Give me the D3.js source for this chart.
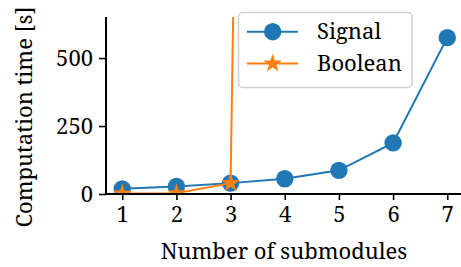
<!DOCTYPE html><html><head><script src="https://cdn.jsdelivr.net/npm/d3@7"></script>
<style>body{margin:0;background:#fff}svg text{font-family:"Noto Serif","Liberation Serif",serif;fill:#000}</style></head><body><svg width="461" height="267"></svg><script>
const submodules=[1,2,3,4,5,6,7];
const signalTime=[19,28,40,56,87,188,575];
const booleanSub=[1,2,3,4];
const booleanTime=[2,3,40,13000];
const yTicks=[0,250,500];
const xLabel="Number of submodules";
const yLabel="Computation time [s]";
const seriesNames=["Signal","Boolean"];
const colors=["#1f77b4","#ff7f0e"];
const FONT="Noto Serif";

const svg=d3.select("svg");
const L=106,T=17,B=194,R=461;
const x=d3.scaleLinear().domain([0.7,7.3]).range([L,L+6.6*54.17]);
const y=d3.scaleLinear().domain([0,651]).range([B,T]);

svg.append("defs").append("clipPath").attr("id","clip").append("rect").attr("x",L).attr("y",T).attr("width",R-L).attr("height",B-T);
const plot=svg.append("g").attr("clip-path","url(#clip)");

const line=d3.line().x(d=>x(d[0])).y(d=>y(d[1]));
const sig=submodules.map((s,i)=>[s,signalTime[i]]);
const boo=booleanSub.map((s,i)=>[s,booleanTime[i]]);
plot.append("path").datum(sig).attr("d",line).attr("fill","none").attr("stroke",colors[0]).attr("stroke-width",2);
plot.selectAll(".sc").data(sig).enter().append("circle").attr("cx",d=>x(d[0])).attr("cy",d=>y(d[1])).attr("r",8.7).attr("fill",colors[0]);
plot.append("path").datum(boo).attr("d",line).attr("fill","none").attr("stroke",colors[1]).attr("stroke-width",2);
const star=d3.symbol().type(d3.symbolStar).size(110);
plot.selectAll(".bs").data(boo).enter().append("path").attr("d",star).attr("transform",d=>`translate(${x(d[0])},${y(d[1])})`).attr("fill",colors[1]);

// axes
const xa=svg.append("g").attr("transform",`translate(0,${B})`).call(d3.axisBottom(x).tickValues(submodules).tickFormat(d3.format("d")).tickSize(6).tickPadding(6));
const ya=svg.append("g").attr("transform",`translate(${L},0)`).call(d3.axisLeft(y).tickValues(yTicks).tickSize(7).tickPadding(6));
[xa,ya].forEach(a=>{a.attr("font-family",FONT).attr("font-size",22);
 a.select(".domain").attr("stroke","#000").attr("stroke-width",2);
 a.selectAll(".tick line").attr("stroke","#000").attr("stroke-width",1.6);
 a.selectAll(".tick text").style("font-family",FONT).style("font-size","22px").attr("fill","#000");});
xa.select(".domain").attr("d",`M${L},0H${R}`);
ya.select(".domain").attr("d",`M0,${T}V${B}`);
xa.selectAll(".tick text").attr("dy","0.72em");
ya.selectAll(".tick text").attr("dy","0.34em");

svg.append("text").attr("x",(160+408)/2).attr("y",259).attr("text-anchor","middle").style("font-family",FONT).style("font-size","22px").text(xLabel);
svg.append("text").attr("transform","translate(32,117) rotate(-90)").attr("text-anchor","middle").style("font-family",FONT).style("font-size","22px").text(yLabel);

// legend
const lg=svg.append("g");
lg.append("rect").attr("x",238.5).attr("y",12.5).attr("width",173.5).attr("height",75).attr("rx",4).attr("fill","#fff").attr("fill-opacity",0.8).attr("stroke","#d0d0d0").attr("stroke-width",1.5);
const ly=[31.7,63.5];
seriesNames.forEach((n,i)=>{
 lg.append("line").attr("x1",247).attr("x2",298).attr("y1",ly[i]).attr("y2",ly[i]).attr("stroke",colors[i]).attr("stroke-width",2);
 if(i===0) lg.append("circle").attr("cx",272.7).attr("cy",ly[i]).attr("r",8.7).attr("fill",colors[i]);
 else lg.append("path").attr("d",star).attr("transform",`translate(272.7,${ly[i]})`).attr("fill",colors[i]);
 lg.append("text").attr("x",317).attr("y",ly[i]).attr("dy","0.34em").style("font-family",FONT).style("font-size","22px").text(n);
});
</script></body></html>
